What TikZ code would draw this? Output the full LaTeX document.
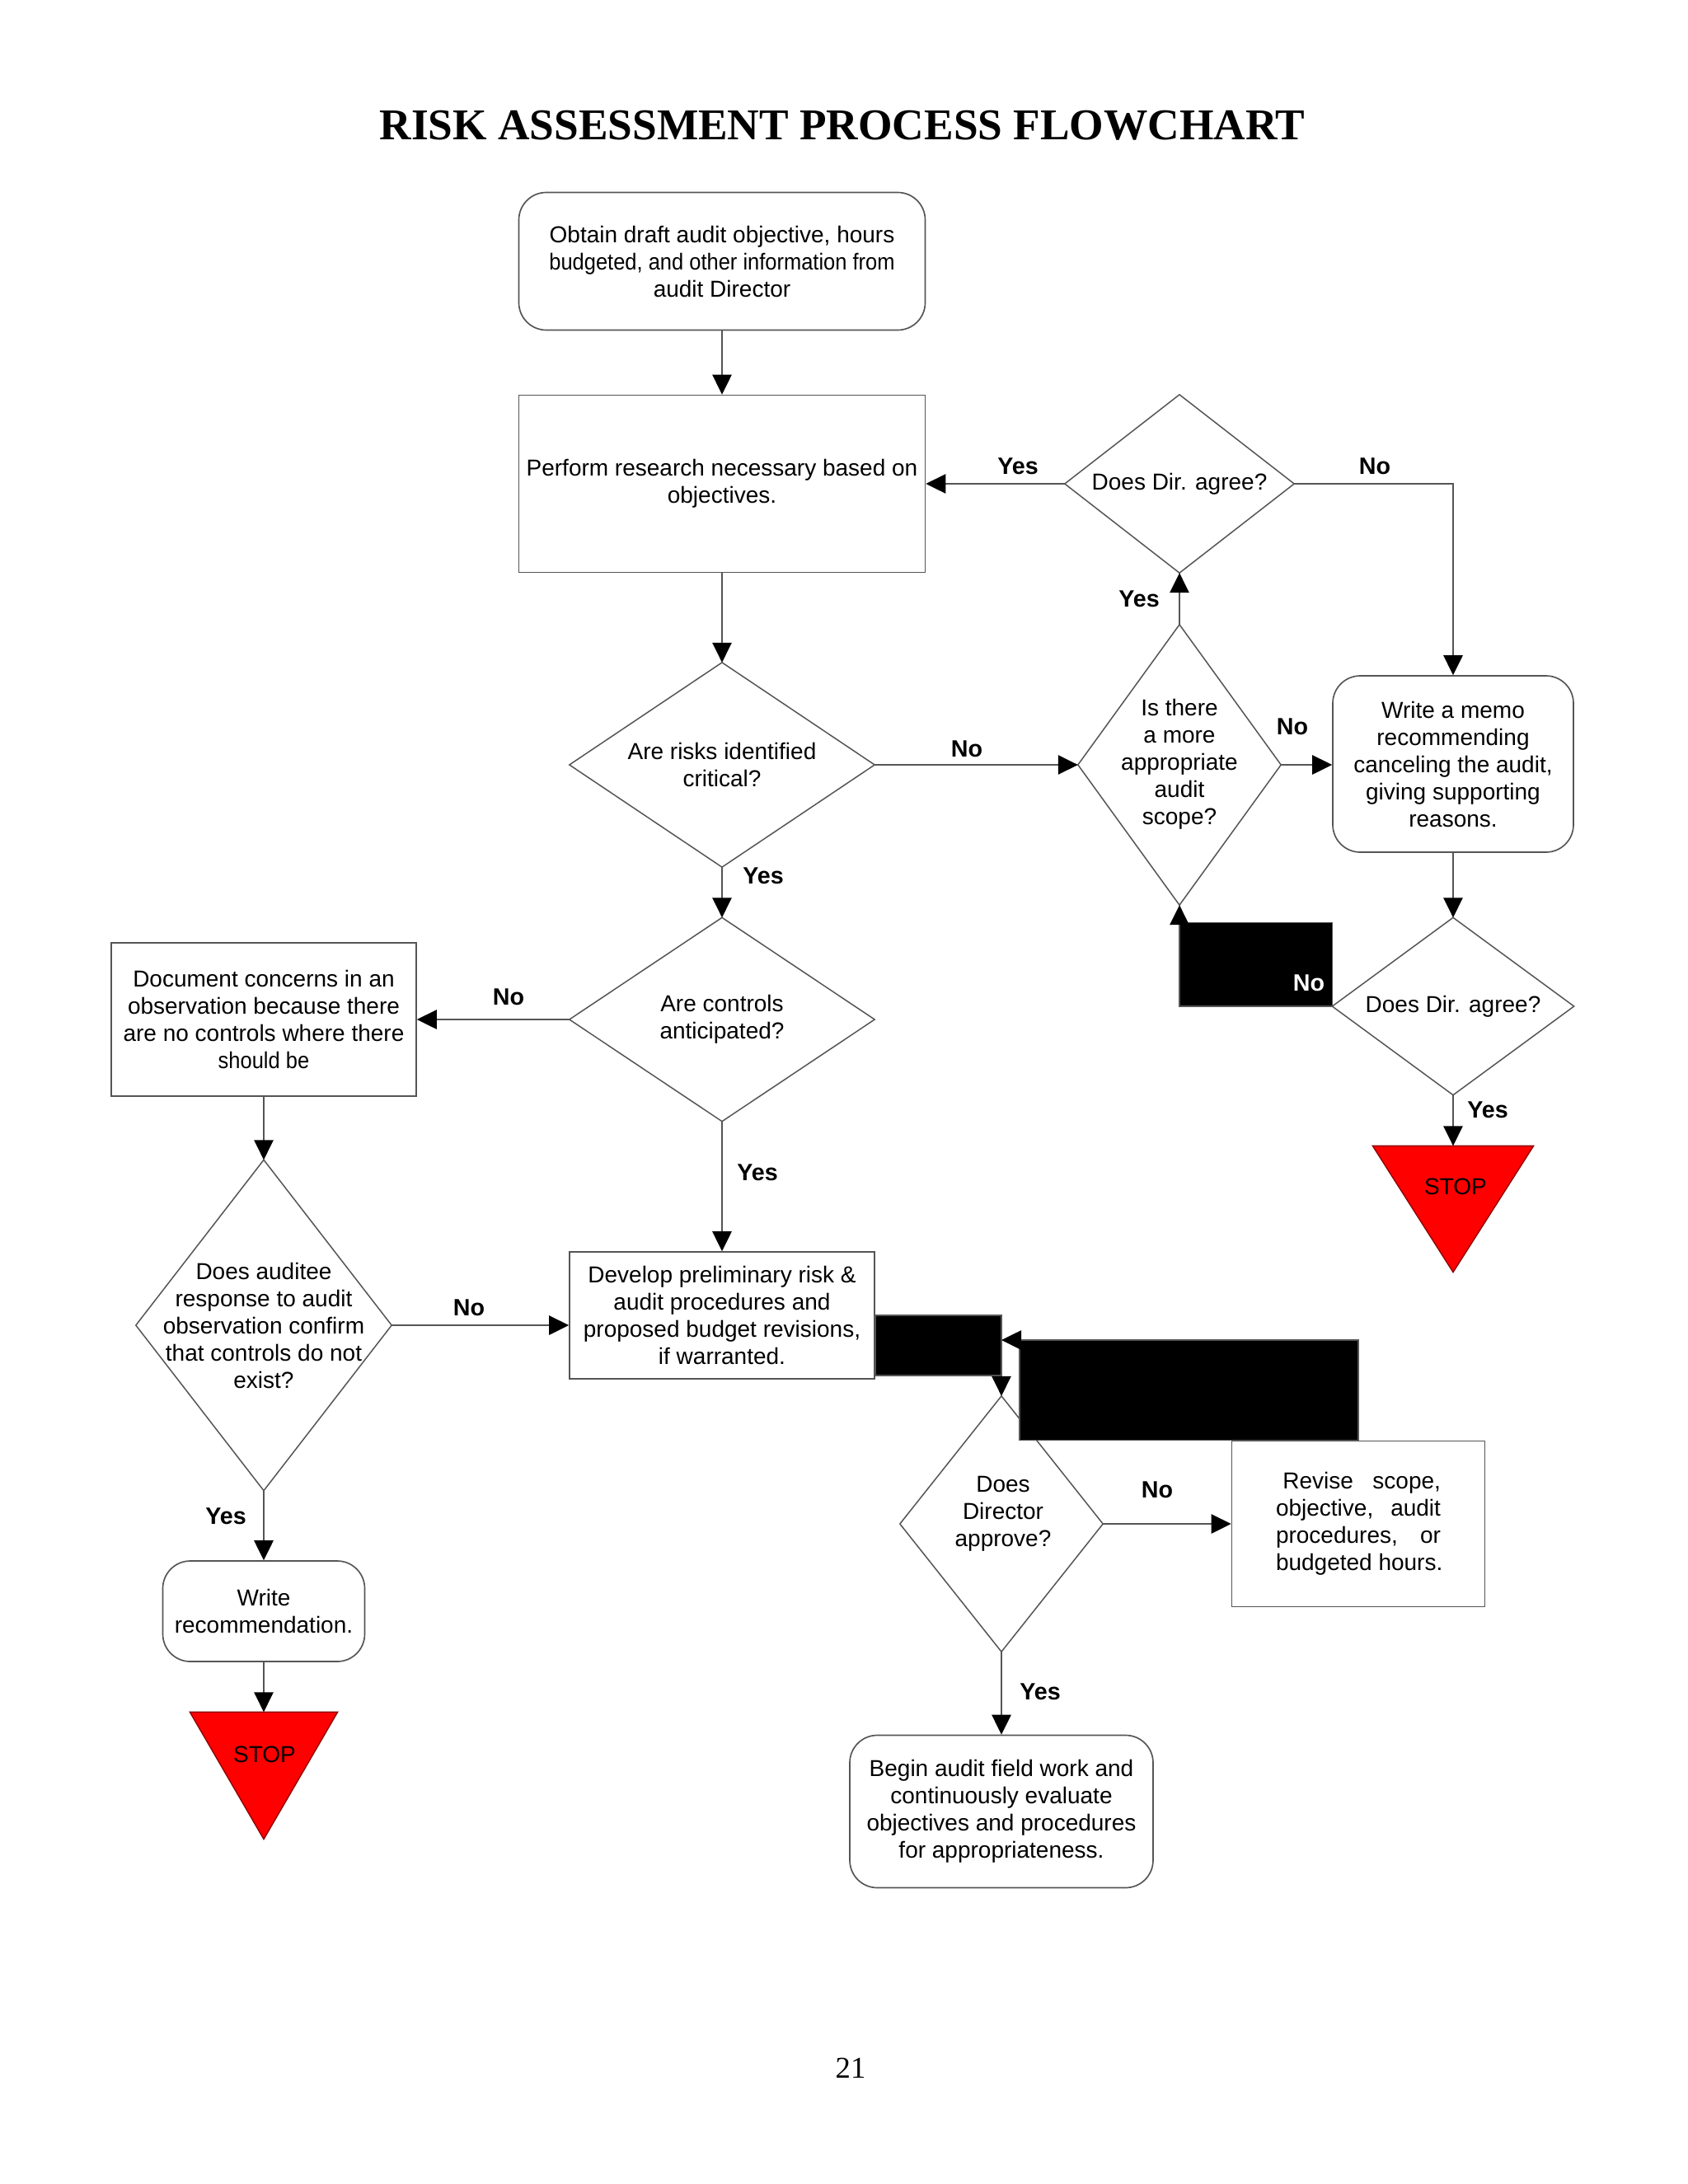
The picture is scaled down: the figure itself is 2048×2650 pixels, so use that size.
\documentclass[tikz,border=0pt]{standalone}
\usepackage{fontspec}
\setmainfont{Liberation Sans}
\newfontfamily\titleserif{Liberation Serif}
\newfontfamily\narrowsans[FakeStretch=0.91]{Liberation Sans}
\usetikzlibrary{arrows.meta,calc}
\newdimen\pxu \pxu=0.3pt
\definecolor{linec}{RGB}{85,85,85}
\begin{document}
\begin{tikzpicture}[x=0.3pt,y=-0.3pt,
  txt/.style={font=\fontsize{8.4}{9.9}\selectfont, align=center, inner sep=0pt},
  rbox/.style={txt, draw=linec, line width=0.5pt, rounded corners=10pt},
  sbox/.style={txt, draw=linec, line width=0.5pt},
  dia/.style={txt},
  dline/.style={draw=linec, line width=0.45pt},
  lbl/.style={font=\bfseries\fontsize{8.6}{10}\selectfont, inner sep=0pt},
  conn/.style={draw=linec, line width=0.5pt, -{Triangle[length=7.2pt,width=7pt,color=black]}},
  blk/.style={fill=black, draw=linec, line width=0.4pt},
  stopt/.style={fill=red, draw=red!55!black, line width=0.4pt}
]
\useasboundingbox (0,0) rectangle (2048,2650);
\fill[white] (0,0) rectangle (2048,2650);

% title and page number
\node[font=\titleserif\bfseries\fontsize{16}{19}\selectfont, inner sep=0pt] (title) at (1022,152) {RISK ASSESSMENT PROCESS FLOWCHART};
\node[font=\titleserif\fontsize{11}{13}\selectfont, inner sep=0pt] (pagenum) at (1032,2509) {21};

% boxes
\node[rbox, minimum width=493\pxu, minimum height=167\pxu] (A) at (876,317)
  {Obtain draft audit objective, hours\\{\narrowsans budgeted, and other information from}\\audit Director};
\node[sbox, minimum width=493\pxu, minimum height=215\pxu] (B) at (876,587)
  {Perform research necessary based on\\objectives.};
\node[rbox, minimum width=292\pxu, minimum height=214\pxu] (M) at (1763,927)
  {Write a memo\\recommending\\canceling the audit,\\giving supporting\\reasons.};
\node[sbox, minimum width=370\pxu, minimum height=186\pxu] (C) at (320,1237)
  {Document concerns in an\\observation because there\\are no controls where there\\{\narrowsans should be}};
\node[sbox, minimum width=370\pxu, minimum height=154\pxu] (E) at (876,1596)
  {Develop preliminary risk \&\\audit procedures and\\proposed budget revisions,\\if warranted.};
\node[rbox, minimum width=245\pxu, minimum height=122\pxu] (W) at (320,1955)
  {Write\\recommendation.};
\node[sbox, minimum width=307\pxu, minimum height=201\pxu] (R) at (1648,1849)
  {\makebox[60pt][s]{\hspace*{2.5pt}Revise scope,}\\\makebox[60pt][s]{objective, audit}\\\makebox[60pt][s]{procedures, or}\\\makebox[60pt][l]{budgeted hours.}};
\node[rbox, minimum width=368\pxu, minimum height=185\pxu] (Bg) at (1215,2198)
  {Begin audit field work and\\continuously evaluate\\objectives and procedures\\for appropriateness.};

% diamonds (invisible frames, outlines drawn from their anchors)
\node[dia, minimum width=277\pxu, minimum height=215\pxu] (D1) at (1431,587) {\raisebox{-3\pxu}{Does Dir. agree?}};
\node[dia, minimum width=245\pxu, minimum height=339\pxu] (D2) at (1431,928) {\raisebox{-3\pxu}{\begin{tabular}{@{}c@{}}Is there\\a more\\appropriate\\audit\\scope?\end{tabular}}};
\node[dia, minimum width=369\pxu, minimum height=247\pxu] (D3) at (876,928) {Are risks identified\\critical?};
\node[dia, minimum width=369\pxu, minimum height=246\pxu] (D4) at (876,1237) {\raisebox{-4\pxu}{\begin{tabular}{@{}c@{}}Are controls\\anticipated?\end{tabular}}};
\node[dia, minimum width=309\pxu, minimum height=400\pxu] (D5) at (320,1608) {Does auditee\\response to audit\\observation confirm\\that controls do not\\exist?};
\node[dia, minimum width=292\pxu, minimum height=214\pxu] (D6) at (1763,1221) {\raisebox{-3\pxu}{Does Dir. agree?}};
\node[dia, minimum width=245\pxu, minimum height=309\pxu] (D7) at (1215,1849) {};
\node[txt] (D7t) at (1217,1837) {Does\\Director\\approve?};

\foreach \d in {D1,D2,D3,D4,D5,D6,D7}
  \draw[dline] (\d.north) -- (\d.east) -- (\d.south) -- (\d.west) -- cycle;

% stop triangles
\node[minimum width=178\pxu, minimum height=153\pxu, inner sep=0pt] (S1) at (320,2154.5) {};
\node[minimum width=194\pxu, minimum height=152\pxu, inner sep=0pt] (S2) at (1763,1467) {};
\draw[stopt] (S1.north west) -- (S1.north east) -- (S1.south) -- cycle;
\draw[stopt] (S2.north west) -- (S2.north east) -- (S2.south) -- cycle;
\node[txt] (S1t) at (321,2129) {STOP};
\node[txt] (S2t) at (1766,1440) {STOP};

% filled connector regions
\coordinate (rtip) at (1215,1626);
\fill[blk] ($(D2.south)+(0,21)$) rectangle (D6.west);
\fill[blk] (E.east) rectangle ($(D7.north)+(0,-25)$);
\fill[blk] ($(rtip)+(22,0)$) rectangle (R.north);

% connectors
\draw[conn] (A.south) -- (B.north);
\draw[conn] (B.south) -- (D3.north);
\draw[conn] (D1.west) -- (B.east);
\draw[conn] (D1.east) -| (M.north);
\draw[conn] (D2.north) -- (D1.south);
\draw[conn] (D2.east) -- (D2.east -| M.west);
\draw[conn] (D3.east) -- (D2.west);
\draw[conn] (D3.south) -- (D4.north);
\draw[conn] (D4.west) -- (C.east);
\draw[conn] (D4.south) -- (E.north);
\draw[conn] (C.south) -- (D5.north);
\draw[conn] (D5.east) -- (D5.east -| E.west);
\draw[conn] (D5.south) -- (W.north);
\draw[conn] (W.south) -- (S1.north);
\draw[conn] (M.south) -- (D6.north);
\draw[conn] (D6.south) -- (S2.north);
\draw[conn] (D6.west) -| (D2.south);
\draw[conn] (E.east) -| (D7.north);
\draw[conn] (R.north) |- (rtip);
\draw[conn] (D7.east) -- (R.west);
\draw[conn] (D7.south) -- (Bg.north);

% labels
\node[lbl] (l1) at (1235,566) {Yes};
\node[lbl] (l2) at (1668,566) {No};
\node[lbl] (l3) at (1382,727) {Yes};
\node[lbl] (l4) at (1568,882) {No};
\node[lbl] (l5) at (1173,909) {No};
\node[lbl] (l6) at (926,1063) {Yes};
\node[lbl] (l7) at (617,1210) {No};
\node[lbl] (l8) at (919,1423) {Yes};
\node[lbl] (l9) at (569,1587) {No};
\node[lbl] (l10) at (274,1840) {Yes};
\node[lbl, text=white] (l11) at (1588,1193) {No};
\node[lbl] (l12) at (1805,1347) {Yes};
\node[lbl] (l13) at (1404,1808) {No};
\node[lbl] (l14) at (1262,2053) {Yes};
\end{tikzpicture}
\end{document}
